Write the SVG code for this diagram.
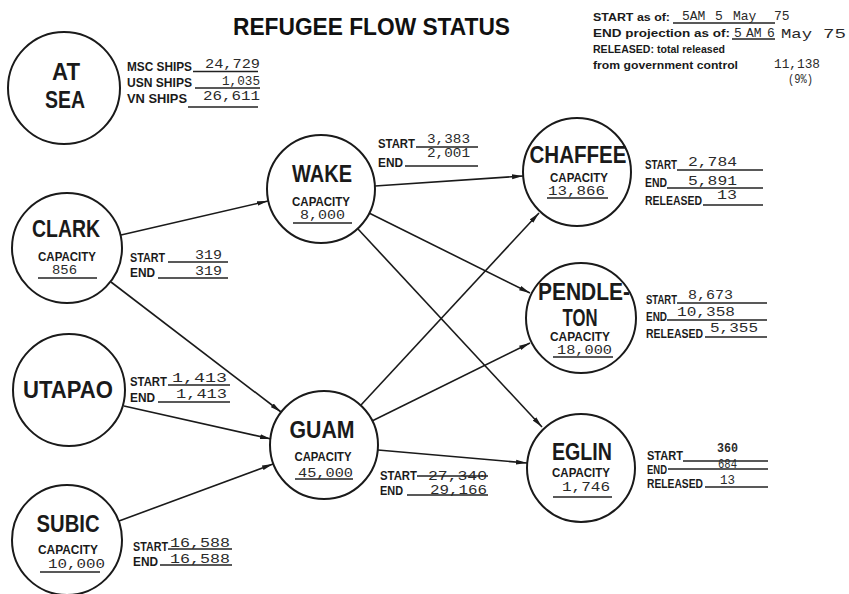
<svg xmlns="http://www.w3.org/2000/svg" width="849" height="594" viewBox="0 0 849 594">
<style>
.node circle{fill:none;stroke:#1a1a1a;stroke-width:2}
.nm{font-family:"Liberation Sans",Arial,sans-serif;font-weight:bold;font-size:24px;fill:#1a1a1a;text-anchor:middle}
.lb{font-family:"Liberation Sans",Arial,sans-serif;font-weight:bold;font-size:12px;fill:#1a1a1a}
.hd{font-family:"Liberation Sans",Arial,sans-serif;font-weight:bold;font-size:11px;fill:#1a1a1a}
.cap{text-anchor:middle}
.tw{font-family:"Liberation Mono","Courier New",monospace;font-size:13px;fill:#2a2a2a}
.ul{stroke:#222;stroke-width:1.3;fill:none}
.edge line{stroke:#1a1a1a;stroke-width:1.6;fill:none}
.title{font-family:"Liberation Sans",Arial,sans-serif;font-weight:bold;font-size:24px;fill:#111}
</style>
<defs>
<marker id="ah" markerUnits="userSpaceOnUse" markerWidth="12" markerHeight="6" refX="11" refY="3" orient="auto">
<path d="M0,0.6 L11,3 L0,5.4 z" fill="#1a1a1a"/>
</marker>
</defs>
<rect width="849" height="594" fill="#ffffff"/>

<text class="title" x="233" y="35" textLength="277" lengthAdjust="spacingAndGlyphs">REFUGEE FLOW STATUS</text>

<g id="header">
<text class="hd" x="593" y="21" textLength="77" lengthAdjust="spacingAndGlyphs">START as of:</text>
<line class="ul" x1="673" y1="23" x2="775" y2="23"/>
<text class="tw" y="20" font-size="12"><tspan x="682">5AM</tspan><tspan x="715">5</tspan><tspan x="733">May</tspan><tspan x="774">75</tspan></text>
<text class="hd" x="593" y="37" textLength="137" lengthAdjust="spacingAndGlyphs">END projection as of:</text>
<line class="ul" x1="732" y1="39" x2="775" y2="39"/>
<text class="tw" y="37" font-size="12"><tspan x="734">5</tspan><tspan x="746">AM</tspan><tspan x="767">6</tspan></text>
<text class="tw" x="781" y="38" font-size="15" textLength="31" lengthAdjust="spacingAndGlyphs">May</text>
<text class="tw" x="823" y="38" font-size="15" textLength="23" lengthAdjust="spacingAndGlyphs">75</text>
<text class="hd" x="593" y="53" textLength="132" lengthAdjust="spacingAndGlyphs">RELEASED: total released</text>
<text class="hd" x="593" y="69" textLength="145" lengthAdjust="spacingAndGlyphs">from government control</text>
<text class="tw" x="774" y="68" textLength="46" lengthAdjust="spacingAndGlyphs">11,138</text>
<text class="tw" x="788" y="83" textLength="25" lengthAdjust="spacingAndGlyphs">(9%)</text>
</g>

<g id="connectors" class="edge">
<line x1="121" y1="235" x2="268" y2="201" marker-end="url(#ah)"/>
<line x1="111" y1="282" x2="281" y2="412" marker-end="url(#ah)"/>
<line x1="124" y1="406" x2="271" y2="439" marker-end="url(#ah)"/>
<line x1="119" y1="521" x2="273" y2="464" marker-end="url(#ah)"/>
<line x1="375" y1="186" x2="523" y2="176" marker-end="url(#ah)"/>
<line x1="369" y1="213" x2="530" y2="293" marker-end="url(#ah)"/>
<line x1="358" y1="229" x2="542" y2="427" marker-end="url(#ah)"/>
<line x1="361" y1="405" x2="539" y2="213" marker-end="url(#ah)"/>
<line x1="372" y1="421" x2="530" y2="343" marker-end="url(#ah)"/>
<line x1="378" y1="450" x2="527" y2="463" marker-end="url(#ah)"/>
</g>

<g id="atsea" class="node">
<circle cx="64" cy="88" r="56"/>
<text class="nm" x="66" y="80" textLength="28" lengthAdjust="spacingAndGlyphs">AT</text>
<text class="nm" x="65" y="108" textLength="40" lengthAdjust="spacingAndGlyphs">SEA</text>
<text class="lb" x="127" y="71" font-size="11" textLength="65" lengthAdjust="spacingAndGlyphs">MSC SHIPS</text>
<text class="tw" x="205" y="68" textLength="55" lengthAdjust="spacingAndGlyphs">24,729</text>
<line class="ul" x1="193" y1="71.5" x2="258" y2="71.5"/>
<text class="lb" x="127" y="87" font-size="11" textLength="65" lengthAdjust="spacingAndGlyphs">USN SHIPS</text>
<text class="tw" x="222" y="85" textLength="38" lengthAdjust="spacingAndGlyphs">1,035</text>
<line class="ul" x1="195" y1="88" x2="260" y2="88"/>
<text class="lb" x="127" y="103" font-size="11" textLength="60" lengthAdjust="spacingAndGlyphs">VN SHIPS</text>
<text class="tw" x="203" y="100" textLength="57" lengthAdjust="spacingAndGlyphs">26,611</text>
<line class="ul" x1="188" y1="107" x2="258" y2="107"/>
</g>

<g id="clark" class="node">
<circle cx="67" cy="248" r="55"/>
<text class="nm" x="66" y="237" textLength="68" lengthAdjust="spacingAndGlyphs">CLARK</text>
<text class="lb cap" x="67" y="261" font-size="11" textLength="58" lengthAdjust="spacingAndGlyphs">CAPACITY</text>
<text class="tw" x="52" y="274" textLength="25" lengthAdjust="spacingAndGlyphs">856</text>
<line class="ul" x1="38" y1="278" x2="97" y2="278"/>
<text class="lb" x="130" y="262" textLength="35" lengthAdjust="spacingAndGlyphs">START</text>
<text class="tw" x="195" y="259" textLength="27" lengthAdjust="spacingAndGlyphs">319</text>
<line class="ul" x1="168" y1="262" x2="228" y2="262"/>
<text class="lb" x="130" y="277" textLength="25" lengthAdjust="spacingAndGlyphs">END</text>
<text class="tw" x="195" y="275" textLength="27" lengthAdjust="spacingAndGlyphs">319</text>
<line class="ul" x1="158" y1="278" x2="228" y2="278"/>
</g>

<g id="utapao" class="node">
<circle cx="69" cy="390" r="56"/>
<text class="nm" x="68" y="398" textLength="90" lengthAdjust="spacingAndGlyphs">UTAPAO</text>
<text class="lb" x="130" y="386" textLength="37" lengthAdjust="spacingAndGlyphs">START</text>
<text class="tw" x="172" y="382" textLength="55" lengthAdjust="spacingAndGlyphs">1,413</text>
<line class="ul" x1="168" y1="385" x2="230" y2="385"/>
<text class="lb" x="130" y="402" textLength="25" lengthAdjust="spacingAndGlyphs">END</text>
<text class="tw" x="176" y="398" textLength="51" lengthAdjust="spacingAndGlyphs">1,413</text>
<line class="ul" x1="158" y1="402" x2="230" y2="402"/>
</g>

<g id="subic" class="node">
<circle cx="67" cy="540" r="55"/>
<text class="nm" x="68" y="532" textLength="63" lengthAdjust="spacingAndGlyphs">SUBIC</text>
<text class="lb cap" x="68" y="554" font-size="11" textLength="60" lengthAdjust="spacingAndGlyphs">CAPACITY</text>
<text class="tw" x="48" y="568" textLength="57" lengthAdjust="spacingAndGlyphs">10,000</text>
<line class="ul" x1="40" y1="572" x2="100" y2="572"/>
<text class="lb" x="133" y="551" textLength="35" lengthAdjust="spacingAndGlyphs">START</text>
<text class="tw" x="170" y="547" textLength="60" lengthAdjust="spacingAndGlyphs">16,588</text>
<line class="ul" x1="168" y1="549" x2="232" y2="549"/>
<text class="lb" x="133" y="566" textLength="25" lengthAdjust="spacingAndGlyphs">END</text>
<text class="tw" x="170" y="563" textLength="60" lengthAdjust="spacingAndGlyphs">16,588</text>
<line class="ul" x1="160" y1="565" x2="232" y2="565"/>
</g>

<g id="wake" class="node">
<circle cx="321" cy="189" r="54"/>
<text class="nm" x="322" y="182" textLength="60" lengthAdjust="spacingAndGlyphs">WAKE</text>
<text class="lb cap" x="321" y="206" font-size="11" textLength="58" lengthAdjust="spacingAndGlyphs">CAPACITY</text>
<text class="tw" x="300" y="219" textLength="45" lengthAdjust="spacingAndGlyphs">8,000</text>
<line class="ul" x1="293" y1="223" x2="352" y2="223"/>
<text class="lb" x="378" y="148" textLength="37" lengthAdjust="spacingAndGlyphs">START</text>
<text class="tw" x="427" y="143" textLength="43" lengthAdjust="spacingAndGlyphs">3,383</text>
<line class="ul" x1="416" y1="147" x2="478" y2="147"/>
<text class="lb" x="378" y="167" textLength="25" lengthAdjust="spacingAndGlyphs">END</text>
<text class="tw" x="427" y="157" textLength="43" lengthAdjust="spacingAndGlyphs">2,001</text>
<line class="ul" x1="405" y1="166" x2="478" y2="166"/>
</g>

<g id="guam" class="node">
<circle cx="324" cy="445" r="54"/>
<text class="nm" x="322" y="438" textLength="65" lengthAdjust="spacingAndGlyphs">GUAM</text>
<text class="lb cap" x="323" y="461" font-size="11" textLength="57" lengthAdjust="spacingAndGlyphs">CAPACITY</text>
<text class="tw" x="298" y="477" textLength="55" lengthAdjust="spacingAndGlyphs">45,000</text>
<line class="ul" x1="295" y1="479" x2="353" y2="479"/>
<text class="lb" x="380" y="480" textLength="37" lengthAdjust="spacingAndGlyphs">START</text>
<text class="tw" x="428" y="480" textLength="59" lengthAdjust="spacingAndGlyphs">27,340</text>
<line class="ul" x1="417" y1="476" x2="488" y2="476"/>
<text class="lb" x="380" y="495" textLength="23" lengthAdjust="spacingAndGlyphs">END</text>
<text class="tw" x="430" y="494" textLength="57" lengthAdjust="spacingAndGlyphs">29,166</text>
<line class="ul" x1="407" y1="495" x2="488" y2="495"/>
</g>

<g id="chaffee" class="node">
<circle cx="577" cy="172" r="54"/>
<text class="nm" x="578" y="163" textLength="97" lengthAdjust="spacingAndGlyphs">CHAFFEE</text>
<text class="lb cap" x="579" y="182" font-size="11" textLength="58" lengthAdjust="spacingAndGlyphs">CAPACITY</text>
<text class="tw" x="548" y="195" textLength="57" lengthAdjust="spacingAndGlyphs">13,866</text>
<line class="ul" x1="547" y1="198" x2="608" y2="198"/>
<text class="lb" x="645" y="169" textLength="32" lengthAdjust="spacingAndGlyphs">START</text>
<text class="tw" x="688" y="166" textLength="49" lengthAdjust="spacingAndGlyphs">2,784</text>
<line class="ul" x1="677" y1="170" x2="763" y2="170"/>
<text class="lb" x="645" y="187" textLength="22" lengthAdjust="spacingAndGlyphs">END</text>
<text class="tw" x="688" y="185" textLength="49" lengthAdjust="spacingAndGlyphs">5,891</text>
<line class="ul" x1="667" y1="188" x2="763" y2="188"/>
<text class="lb" x="645" y="205" textLength="57" lengthAdjust="spacingAndGlyphs">RELEASED</text>
<text class="tw" x="717" y="199" textLength="20" lengthAdjust="spacingAndGlyphs">13</text>
<line class="ul" x1="703" y1="205" x2="763" y2="205"/>
</g>

<g id="pendleton" class="node">
<circle cx="581" cy="318" r="55"/>
<text class="nm" x="584" y="300" font-size="20" textLength="92" lengthAdjust="spacingAndGlyphs">PENDLE-</text>
<text class="nm" x="580" y="326" font-size="20" textLength="35" lengthAdjust="spacingAndGlyphs">TON</text>
<text class="lb cap" x="580" y="341" font-size="11" textLength="60" lengthAdjust="spacingAndGlyphs">CAPACITY</text>
<text class="tw" x="557" y="354" textLength="55" lengthAdjust="spacingAndGlyphs">18,000</text>
<line class="ul" x1="553" y1="357" x2="613" y2="357"/>
<text class="lb" x="646" y="304" textLength="31" lengthAdjust="spacingAndGlyphs">START</text>
<text class="tw" x="688" y="299" textLength="45" lengthAdjust="spacingAndGlyphs">8,673</text>
<line class="ul" x1="677" y1="303" x2="767" y2="303"/>
<text class="lb" x="646" y="321" textLength="21" lengthAdjust="spacingAndGlyphs">END</text>
<text class="tw" x="677" y="316" textLength="58" lengthAdjust="spacingAndGlyphs">10,358</text>
<line class="ul" x1="667" y1="320" x2="767" y2="320"/>
<text class="lb" x="646" y="338" textLength="57" lengthAdjust="spacingAndGlyphs">RELEASED</text>
<text class="tw" x="710" y="332" textLength="48" lengthAdjust="spacingAndGlyphs">5,355</text>
<line class="ul" x1="705" y1="337" x2="767" y2="337"/>
</g>

<g id="eglin" class="node">
<circle cx="581" cy="468" r="54"/>
<text class="nm" x="582" y="460" font-size="22" textLength="60" lengthAdjust="spacingAndGlyphs">EGLIN</text>
<text class="lb cap" x="581" y="477" font-size="11" textLength="58" lengthAdjust="spacingAndGlyphs">CAPACITY</text>
<text class="tw" x="562" y="491" textLength="48" lengthAdjust="spacingAndGlyphs">1,746</text>
<line class="ul" x1="553" y1="497" x2="612" y2="497"/>
<text class="lb" x="647" y="460" textLength="36" lengthAdjust="spacingAndGlyphs">START</text>
<text class="tw" x="717" y="452" font-size="13" font-weight="bold" textLength="21" lengthAdjust="spacingAndGlyphs">360</text>
<line class="ul" x1="683" y1="461" x2="768" y2="461"/>
<text class="lb" x="647" y="474" textLength="20" lengthAdjust="spacingAndGlyphs">END</text>
<text class="tw" x="718" y="468" font-size="10" textLength="19" lengthAdjust="spacingAndGlyphs">684</text>
<line class="ul" x1="668" y1="469" x2="768" y2="469"/>
<text class="lb" x="647" y="488" textLength="56" lengthAdjust="spacingAndGlyphs">RELEASED</text>
<text class="tw" x="720" y="484" font-size="12" textLength="15" lengthAdjust="spacingAndGlyphs">13</text>
<line class="ul" x1="705" y1="487" x2="768" y2="487"/>
</g>
</svg>
